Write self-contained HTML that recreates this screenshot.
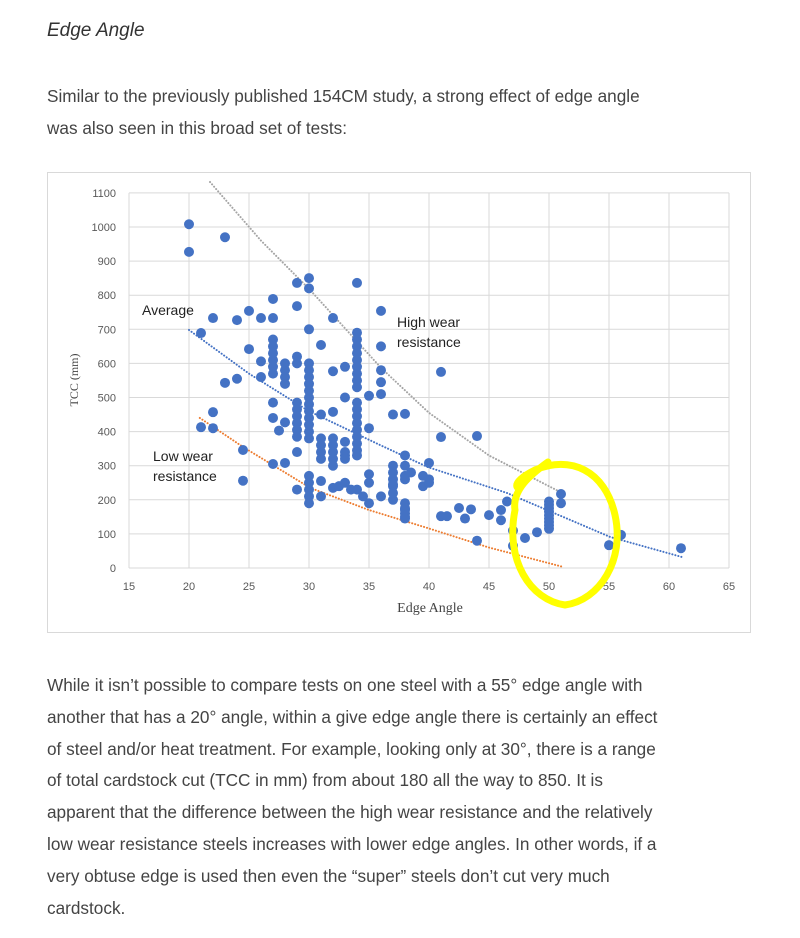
<!DOCTYPE html>
<html><head><meta charset="utf-8">
<style>
body{margin:0;background:#fff;width:800px;height:938px;position:relative;overflow:hidden;font-family:"Liberation Sans",sans-serif;color:#3a3a3a}
.t{position:absolute;left:47px;margin:0;white-space:nowrap}
h3{position:absolute;left:47px;top:20px;margin:0;font-weight:normal;font-style:italic;font-size:19px;color:#333}
p{font-size:17.2px;line-height:31.8px;color:#444}
#chart{position:absolute;left:0;top:0}
</style></head><body>
<h3>Edge Angle</h3>
<p class="t" style="top:81px">Similar to the previously published 154CM study, a strong effect of edge angle<br>was also seen in this broad set of tests:</p>
<svg id="chart" width="800" height="640">
<rect x="47.5" y="172.5" width="703" height="460" fill="#fff" stroke="#d9d9d9"/>
<g id="grid"></g><g id="trends"></g><g id="dots"></g><g id="labels"></g>
<text x="142" y="315" font-size="14" fill="#222" font-family="Liberation Sans">Average</text>
<text x="397" y="327" font-size="14" fill="#222" font-family="Liberation Sans"><tspan x="397">High wear</tspan><tspan x="397" dy="20">resistance</tspan></text>
<text x="153" y="461" font-size="14" fill="#222" font-family="Liberation Sans"><tspan x="153">Low wear</tspan><tspan x="153" dy="20">resistance</tspan></text>
<text x="430" y="612" font-size="14" fill="#444" text-anchor="middle" font-family="Liberation Serif">Edge Angle</text>
<text transform="translate(78,380) rotate(-90)" font-size="12" fill="#444" text-anchor="middle" font-family="Liberation Serif">TCC (mm)</text>
<g fill="none" stroke="#ffff00" stroke-width="7" stroke-linecap="round">
<path d="M548,462 C530,475 512,490 515,510 C505,560 530,600 565,605 C600,600 625,560 615,515 C605,470 570,455 535,470 C525,475 515,482 517,487"/>
</g>
</svg>
<p class="t" style="top:670px">While it isn’t possible to compare tests on one steel with a 55° edge angle with<br>another that has a 20° angle, within a give edge angle there is certainly an effect<br>of steel and/or heat treatment. For example, looking only at 30°, there is a range<br>of total cardstock cut (TCC in mm) from about 180 all the way to 850. It is<br>apparent that the difference between the high wear resistance and the relatively<br>low wear resistance steels increases with lower edge angles. In other words, if a<br>very obtuse edge is used then even the “super” steels don’t cut very much<br>cardstock.</p>
<script>
const xTicks=[15,20,25,30,35,40,45,50,55,60,65];
const yTicks=[0,100,200,300,400,500,600,700,800,900,1000,1100];
const angles=[20,20,23,29,30,30,34,27,29,36,22,24,25,26,27,21,30,32,
34,34,34,34,34,34,34,34,34,25,27,27,27,27,27,27,31,29,29,
30,30,30,30,30,30,30,30,30,30,30,30,26,26,28,28,28,28,32,33,36,36,36,36,35,33,23,24,22,21,22,27,27,28,27.5,
29,29,29,29,29,29,31,32,34,34,34,34,34,34,34,34,34,35,32,32,32,32,32,33,33,33,33,31,31,31,31,29,24.5,27,28,24.5,29,
30,30,30,30,30,31,31,32,32.5,33,33.5,34,34.5,35,35,35,36,37,37,37,37,37,37,37,38,38,38,38,38,38,38,38.5,39.5,39.5,
41,37,38,41,44,40,40,40,38,38,38,41,41.5,42.5,43.5,43,44,45,46,46.5,46,47,47,48,49,
50,50,50,50,50,50,50,50,50,51,51,56,55,61];
const tcc=[1008,927,970,836,850,820,836,789,768,754,733,727,754,733,733,689,700,733,
690,670,650,630,610,590,570,550,530,642,670,650,630,610,590,570,654,620,600,
600,580,560,540,520,500,480,460,440,420,400,380,606,560,600,580,560,540,577,590,650,580,545,510,505,500,543,555,457,413,410,485,440,427,403,
485,465,445,425,405,385,450,458,485,465,445,425,405,385,365,345,330,410,380,360,340,320,300,370,340,330,320,380,360,340,320,340,346,305,308,256,230,
270,250,230,210,190,255,210,235,240,250,230,230,210,275,250,190,210,280,260,240,220,200,300,245,190,170,150,330,300,270,260,280,270,240,
575,450,452,384,387,308,250,260,175,160,145,152,152,176,172,145,80,155,170,195,140,110,65,88,105,
195,185,175,165,155,145,135,125,115,217,190,97,67,58];
const highTrendA=[21.75,26,30.1,36,40,45,51.1];
const highTrendV=[1132,960,815,587,455,330,220];
const avgTrendA=[20,25,30,35.9,39.9,46.5,55.1,61.1];
const avgTrendV=[698,570,460,361,296,220,91,32];
const lowTrendA=[20.9,24.5,30.1,35,39.9,45,51.2];
const lowTrendV=[440,355,235,170,117,60,3];
const xS=a=>129+(a-15)*12;
const yS=v=>568-v*0.341;
const NS="http://www.w3.org/2000/svg";
function mk(tag,attrs,parent){const e=document.createElementNS(NS,tag);for(const k in attrs)e.setAttribute(k,attrs[k]);parent.appendChild(e);return e;}
const grid=document.getElementById('grid'),labels=document.getElementById('labels');
yTicks.forEach(v=>{
 const l=mk('line',{x1:129,x2:729,y1:yS(v),y2:yS(v),stroke:'#d9d9d9','stroke-width':1},grid);
 
 
 const t=mk('text',{x:116,y:yS(v)+4,'font-size':11,fill:'#595959','text-anchor':'end','font-family':'Liberation Sans'},labels);
 t.textContent=v;
 
 
});
xTicks.forEach(a=>{
 const l=mk('line',{x1:xS(a),x2:xS(a),y1:yS(1100),y2:yS(0),stroke:'#d9d9d9','stroke-width':1},grid);
 
 
 const t=mk('text',{x:xS(a),y:590,'font-size':11,fill:'#595959','text-anchor':'middle','font-family':'Liberation Sans'},labels);
 t.textContent=a;
 
 
});
const trends=document.getElementById('trends');
[[highTrendA,highTrendV,'#a5a5a5','high-wear-trendline'],[avgTrendA,avgTrendV,'#4472c4','average-trendline'],[lowTrendA,lowTrendV,'#ed7d31','low-wear-trendline']].forEach(([A,V,c,n])=>{
 const pts=A.map((a,i)=>xS(a)+','+yS(V[i])).join(' ');
 const p=mk('polyline',{points:pts,fill:'none',stroke:c,'stroke-width':2,'stroke-dasharray':'0.1 3','stroke-linecap':'round'},trends);
 
 
});
const dots=document.getElementById('dots');
angles.forEach((a,i)=>{
 const c=mk('circle',{cx:xS(a),cy:yS(tcc[i]),r:5,fill:'#4472c4'},dots);
 
 
});
</script>
</body></html>
